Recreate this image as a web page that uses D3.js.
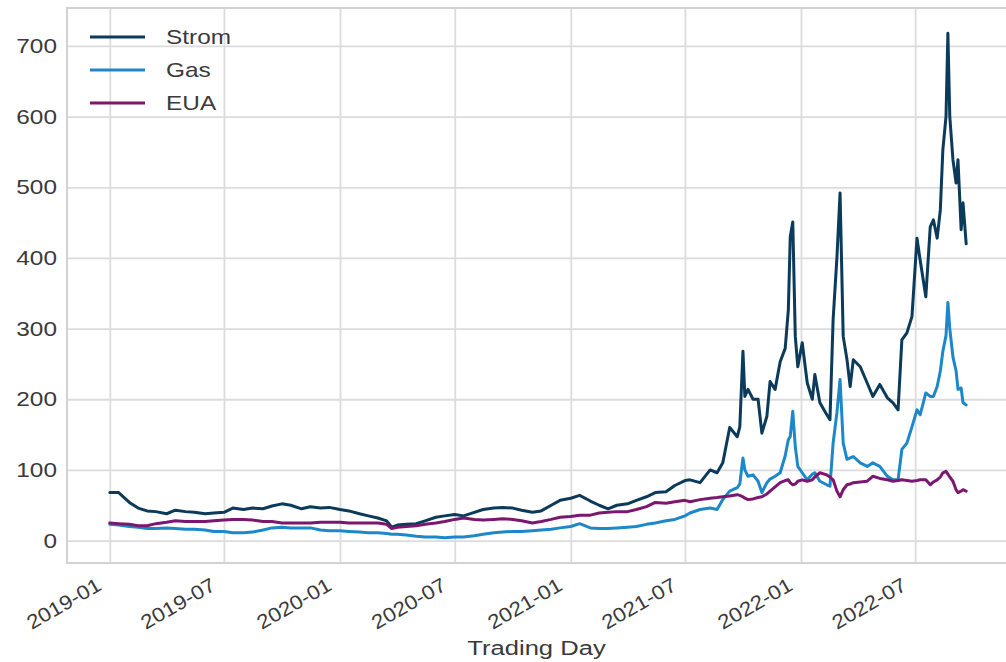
<!DOCTYPE html>
<html><head><meta charset="utf-8">
<script src="https://cdn.jsdelivr.net/npm/d3@7"></script>
<style>
html,body{margin:0;padding:0;background:#fff;}
svg{display:block;}
text{font-family:"Liberation Sans",Arial,sans-serif;}
</style></head><body>
<svg id="chart" width="1006" height="662"></svg>
<script>
// ---- data ----
const dates = [
"2019-01-01","2019-01-15","2019-02-01","2019-02-15","2019-03-01","2019-03-15","2019-04-01","2019-04-15",
"2019-05-01","2019-05-15","2019-06-01","2019-06-15","2019-07-01","2019-07-15","2019-08-01","2019-08-15",
"2019-09-01","2019-09-15","2019-10-01","2019-10-15","2019-11-01","2019-11-15","2019-12-01","2019-12-15",
"2020-01-01","2020-01-15","2020-02-01","2020-02-15","2020-03-01","2020-03-15","2020-03-23","2020-04-01",
"2020-04-15","2020-05-01","2020-05-15","2020-06-01","2020-06-15","2020-07-01","2020-07-15","2020-08-01",
"2020-08-15","2020-09-01","2020-09-15","2020-10-01","2020-10-15","2020-11-01","2020-11-15","2020-12-01",
"2020-12-15","2021-01-01","2021-01-15","2021-02-01","2021-02-15","2021-03-01","2021-03-15","2021-04-01",
"2021-04-15","2021-05-01","2021-05-15","2021-06-01","2021-06-15","2021-07-01",
"2021-07-09","2021-07-25","2021-08-10","2021-08-21","2021-08-30","2021-09-10","2021-09-22","2021-09-26",
"2021-10-01","2021-10-04","2021-10-09","2021-10-17","2021-10-25","2021-10-31","2021-11-08","2021-11-13",
"2021-11-21","2021-11-29","2021-12-07","2021-12-12","2021-12-15","2021-12-19","2021-12-23","2021-12-27",
"2022-01-03","2022-01-11","2022-01-19","2022-01-23","2022-01-31","2022-02-11","2022-02-16","2022-02-21",
"2022-02-27","2022-03-04","2022-03-09","2022-03-15","2022-03-20","2022-03-25","2022-04-05","2022-04-16",
"2022-04-25","2022-05-06","2022-05-18","2022-05-27","2022-06-04","2022-06-10","2022-06-18","2022-06-26",
"2022-07-04","2022-07-09","2022-07-18","2022-07-25","2022-07-30","2022-08-05","2022-08-10","2022-08-14",
"2022-08-19","2022-08-22","2022-08-25","2022-08-30","2022-09-04","2022-09-07","2022-09-12","2022-09-15",
"2022-09-20"];

const strom = [
68,68,54,46,42,41,38,43, 41,40,38,39,40,46,44,46, 45,49,52,50,45,48,46,47,
44,42,38,35,32,28,19,22, 23,24,28,33,35,37,35,40, 44,46,47,46,43,40,42,50,
57,60,64,56,50,45,50,52, 57,62,68,69,78,85,
86,82,100,96,110,160,147,161, 268,204,214,200,200,152,176,225,
214,253,272,327,430,451,289,246, 280,223,200,235,195,178,171,313,
400,492,289,256,218,256,246,223, 204,221,202,195,185,284,294,317,
428,397,345,444,454,428,468,553, 600,718,600,539,506,539,440,478,
420];

const gas = [
23,22,20,19,17,17,18,17, 16,16,15,13,13,11,11,12, 15,18,19,18,18,18,15,14,
14,13,12,11,11,10,9,9, 8,6,5,5,4,5,5,7, 9,11,12,13,13,14,15,16,
18,20,24,18,17,17,18,19, 20,23,25,28,30,35,
39,44,46,44,58,70,75,80, 117,100,91,93,84,68,82,87,
91,96,120,143,147,183,133,105, 96,86,94,96,84,79,77,138,
181,228,138,115,117,119,110,105, 110,105,91,86,86,129,138,161,
185,178,209,204,204,218,240,268, 290,337,300,260,240,214,216,195,
192];

const eua = [
25,24,23,21,21,24,26,28, 27,27,27,28,29,30,30,29, 27,27,25,25,25,25,26,26,
26,25,25,25,25,23,17,19, 20,21,23,25,27,30,32,30, 29,30,31,30,28,25,27,30,
33,34,36,36,39,40,41,41, 44,48,54,53,55,57,
55,58,60,61,62,63,65,64, 62,60,58,59,61,62,66,70,
76,82,85,86,82,79,80,84, 86,84,86,90,96,93,90,86,
70,62,72,79,80,82,83,84, 91,88,86,84,85,86,85,84,
85,86,86,79,83,86,90,96, 98,94,90,84,72,68,70,72,
70];

const seriesNames = ["Strom", "Gas", "EUA"];
const seriesColors = ["#0b3a5b", "#1d88c9", "#7c176f"];
const yTicks = [0, 100, 200, 300, 400, 500, 600, 700];
const xTickLabelFormat = "%Y-%m";
const xAxisTitle = "Trading Day";

// ---- layout ----
const box = {left: 67, top: 8, right: 1009, bottom: 563};
const SX = 1.22; // horizontal stretch of the text in the reference
const svg = d3.select("#chart");

const parse = d3.utcParse("%Y-%m-%d");
const t = dates.map(parse);
const [t0, t1] = d3.extent(t);
const tp = (t1 - t0) * 0.05;
const x = d3.scaleUtc().domain([new Date(+t0 - tp), new Date(+t1 + tp)]).range([box.left, box.right]);
const allV = strom.concat(gas, eua);
const [v0, v1] = d3.extent(allV);
const vp = (v1 - v0) * 0.05;
const y = d3.scaleLinear().domain([v0 - vp, v1 + vp]).range([box.bottom, box.top]);

const gridColor = "#dcdcdc";
const textColor = "#3a3a3a";

svg.append("rect").attr("x", box.left).attr("y", box.top)
  .attr("width", box.right - box.left).attr("height", box.bottom - box.top).attr("fill", "#fff");

const xTicks = d3.utcMonth.every(6).range(x.domain()[0], x.domain()[1]);
const gx = svg.append("g").attr("transform", `translate(0,${box.bottom})`)
  .call(d3.axisBottom(x).tickValues(xTicks).tickSize(-(box.bottom - box.top)).tickFormat(""));
const gy = svg.append("g").attr("transform", `translate(${box.left},0)`)
  .call(d3.axisLeft(y).tickValues(yTicks).tickSize(-(box.right - box.left)).tickFormat(""));
[gx, gy].forEach(g => {
  g.select(".domain").remove();
  g.selectAll(".tick line").attr("stroke", gridColor).attr("stroke-width", 1.8);
});

svg.append("rect").attr("x", box.left).attr("y", box.top)
  .attr("width", box.right - box.left).attr("height", box.bottom - box.top)
  .attr("fill", "none").attr("stroke", "#d2d2d2").attr("stroke-width", 2);

// y tick labels
svg.append("g").selectAll("g").data(yTicks).join("g")
  .attr("transform", d => `translate(${box.left - 10},${y(d)}) scale(${SX},1)`)
  .append("text").attr("text-anchor", "end").attr("dy", "0.36em")
  .attr("font-size", 20).attr("fill", textColor).text(d => d);

// x tick labels (rotated 30 degrees)
const fmt = d3.utcFormat(xTickLabelFormat);
svg.append("g").selectAll("g").data(xTicks).join("g")
  .attr("transform", d => `translate(${x(d) - 7},${box.bottom + 26}) rotate(-30) scale(1.12,1)`)
  .append("text").attr("text-anchor", "end")
  .attr("font-size", 20).attr("fill", textColor).text(d => fmt(d));

// x axis title
svg.append("g").attr("transform", `translate(${(box.left + 1006) / 2},655) scale(${SX},1)`)
  .append("text").attr("text-anchor", "middle").attr("font-size", 21)
  .attr("fill", textColor).text(xAxisTitle);

// lines
const series = [strom, gas, eua];
const line = d3.line().x((d, i) => x(t[i])).y(d => y(d));
svg.append("clipPath").attr("id", "clip").append("rect")
  .attr("x", box.left).attr("y", box.top).attr("width", box.right - box.left).attr("height", box.bottom - box.top);
svg.append("g").attr("clip-path", "url(#clip)").selectAll("path").data(series).join("path")
  .attr("d", d => line(d)).attr("fill", "none")
  .attr("stroke", (d, i) => seriesColors[i]).attr("stroke-width", 3)
  .attr("stroke-linejoin", "round").attr("stroke-linecap", "round");

// legend
const lg = svg.append("g").selectAll("g").data(seriesNames).join("g")
  .attr("transform", (d, i) => `translate(90,${37 + i * 33})`);
lg.append("line").attr("x1", 0).attr("x2", 55).attr("y1", 0).attr("y2", 0)
  .attr("stroke", (d, i) => seriesColors[i]).attr("stroke-width", 3);
lg.append("g").attr("transform", `translate(76,0) scale(${SX},1)`)
  .append("text").attr("dy", "0.36em").attr("font-size", 20).attr("fill", textColor).text(d => d);
</script>
</body></html>
